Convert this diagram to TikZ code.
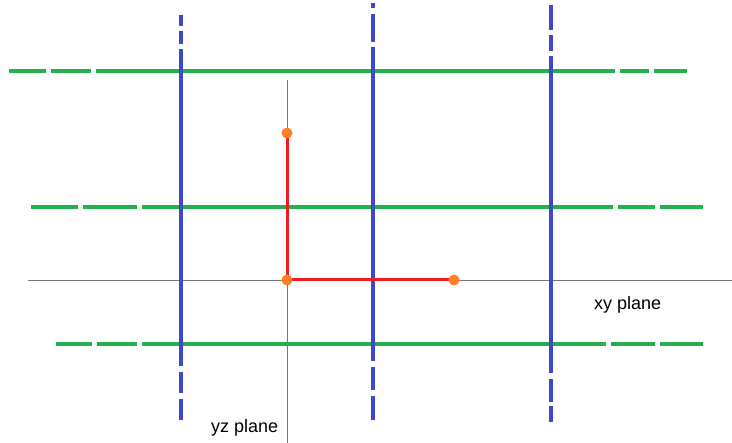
\documentclass[tikz,border=0pt]{standalone}
\usepackage{fontspec}
\setmainfont{Liberation Sans}
\definecolor{pgreen}{RGB}{34,177,76}
\definecolor{pblue}{RGB}{63,72,204}
\definecolor{pred}{RGB}{237,28,36}
\definecolor{porange}{RGB}{255,127,39}
\definecolor{paxis}{RGB}{120,120,120}
\tikzset{
  gline/.style={draw=pgreen,line width=4.6pt},
  bline/.style={draw=pblue,line width=4.6pt},
  axisline/.style={draw=paxis,line width=0.9pt},
  rline/.style={draw=pred,line width=3pt},
  dot/.style={circle,fill=porange,inner sep=0pt,minimum size=11pt},
  lbl/.style={font=\fontsize{18}{21}\selectfont,inner sep=0pt}
}
\begin{document}
\begin{tikzpicture}[x=1pt,y=-1pt]
\useasboundingbox (0,0) rectangle (732,443);
% axes
\draw[axisline] (28,280) -- (732,280);
\draw[axisline] (287,80) -- (287,443);
% green lines
\foreach \a/\b in {9/46,51/91,96/615,620/649,654/687} \draw[gline] (\a,71) -- (\b,71);
\foreach \a/\b in {31/78,83/137,142/613,618/655,660/703} \draw[gline] (\a,207) -- (\b,207);
\foreach \a/\b in {56/92,97/137,142/606,611/655,660/703} \draw[gline] (\a,344) -- (\b,344);
% blue lines
\foreach \a/\b in {15/26,31/44,49/366,372/393,399/420} \draw[bline] (181,\a) -- (181,\b);
\foreach \a/\b in {3/8,14/42,47/361,367/390,396/420} \draw[bline] (373,\a) -- (373,\b);
\foreach \a/\b in {5/30,35/51,56/373,379/402,406/422} \draw[bline] (551,\a) -- (551,\b);
% red path and dots
\coordinate (top) at (287,133);
\coordinate (orig) at (287,280);
\coordinate (right) at (454,280);
\draw[rline] (top) -- (orig) -- (right);
\node[dot] (dtop) at (top) {};
\node[dot] (dorig) at (orig) {};
\node[dot] (dright) at (right) {};
% labels
\node[lbl,anchor=west] (xy) at (594,305) {xy plane};
\node[lbl,anchor=west] (yz) at (211,428) {yz plane};
\end{tikzpicture}
\end{document}
